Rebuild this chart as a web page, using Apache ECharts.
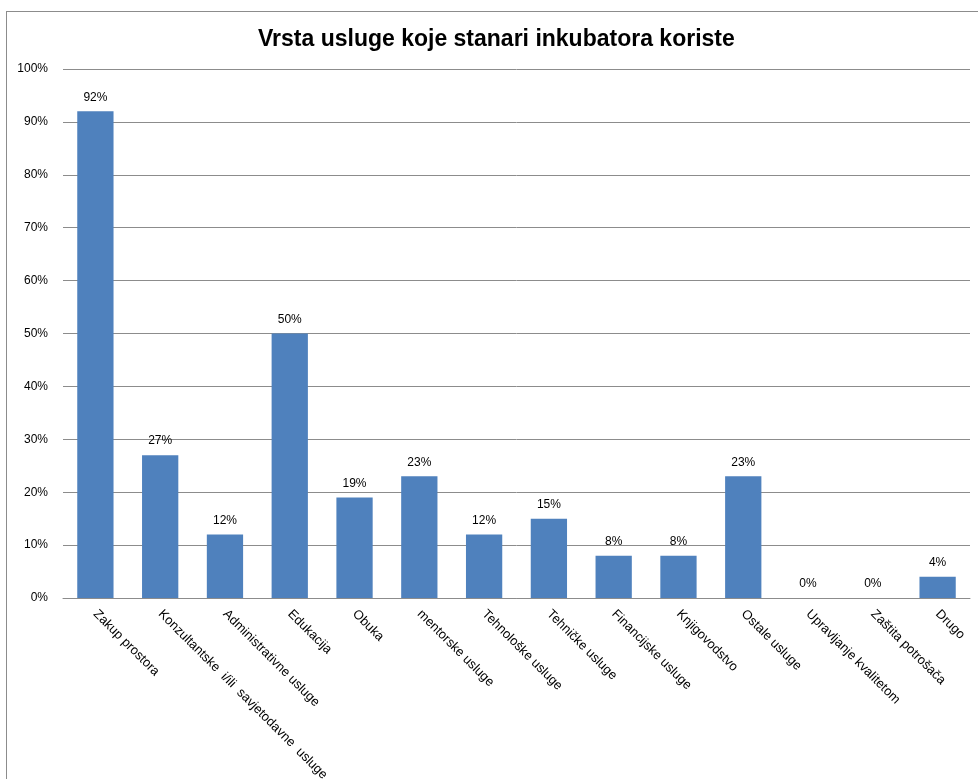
<!DOCTYPE html>
<html>
<head>
<meta charset="utf-8">
<script src="https://cdn.jsdelivr.net/npm/echarts@6/dist/echarts.min.js"></script>
<style>
  html, body { margin: 0; padding: 0; background: #fff; }
  #frame { position: absolute; left: 6px; top: 11px; width: 980px; height: 780px; border-left: 1px solid #8c8c8c; border-top: 1px solid #8c8c8c; }
  #chart { position: absolute; left: 0; top: 0; width: 978px; height: 779px; }
</style>
</head>
<body>
<div id="frame"></div>
<div id="chart"></div>
<script>
const categories = [
  'Zakup prostora',
  'Konzultantske  i/ili  savjetodavne  usluge',
  'Administrativne usluge',
  'Edukacija',
  'Obuka',
  'mentorske usluge',
  'Tehnološke usluge',
  'Tehničke usluge',
  'Financijske usluge',
  'Knjigovodstvo',
  'Ostale usluge',
  'Upravljanje kvalitetom',
  'Zaštita potrošača',
  'Drugo'
];
const values = [92, 27, 12, 50, 19, 23, 12, 15, 8, 8, 23, 0, 0, 4];
const yTicks = [0, 10, 20, 30, 40, 50, 60, 70, 80, 90, 100];

const font = '"Liberation Sans", "Open Sans", sans-serif';
const chart = echarts.init(document.getElementById('chart'), null, { renderer: 'canvas' });
chart.setOption({
  animation: false,
  backgroundColor: 'transparent',
  title: {
    text: 'Vrsta usluge koje stanari inkubatora koriste',
    left: 253,
    top: 23,
    textStyle: { fontFamily: font, fontSize: 23, fontWeight: 'bold', color: '#000' }
  },
  grid: { left: 63, right: 8, top: 69, bottom: 181, containLabel: false, outerBoundsMode: 'none' },
  xAxis: {
    type: 'category',
    data: categories,
    axisLine: { lineStyle: { color: '#8c8c8c', width: 1 } },
    axisTick: { show: false },
    axisLabel: {
      interval: 0,
      rotate: -45,
      margin: 14,
      fontFamily: font,
      fontSize: 13,
      color: '#000'
    }
  },
  yAxis: {
    type: 'value',
    min: yTicks[0],
    max: yTicks[yTicks.length - 1],
    interval: 10,
    axisLine: { show: false },
    axisTick: { show: false },
    splitLine: { lineStyle: { color: '#8c8c8c', width: 1 } },
    axisLabel: {
      formatter: v => v + '%',
      margin: 15,
      fontFamily: font,
      fontSize: 12,
      color: '#000'
    }
  },
  series: [{
    type: 'bar',
    data: values,
    barWidth: '56%',
    itemStyle: { color: '#4f81bd' },
    label: {
      show: true,
      position: 'top',
      distance: 8,
      formatter: p => p.value + '%',
      fontFamily: font,
      fontSize: 12,
      color: '#000'
    }
  }]
});
</script>
</body>
</html>
